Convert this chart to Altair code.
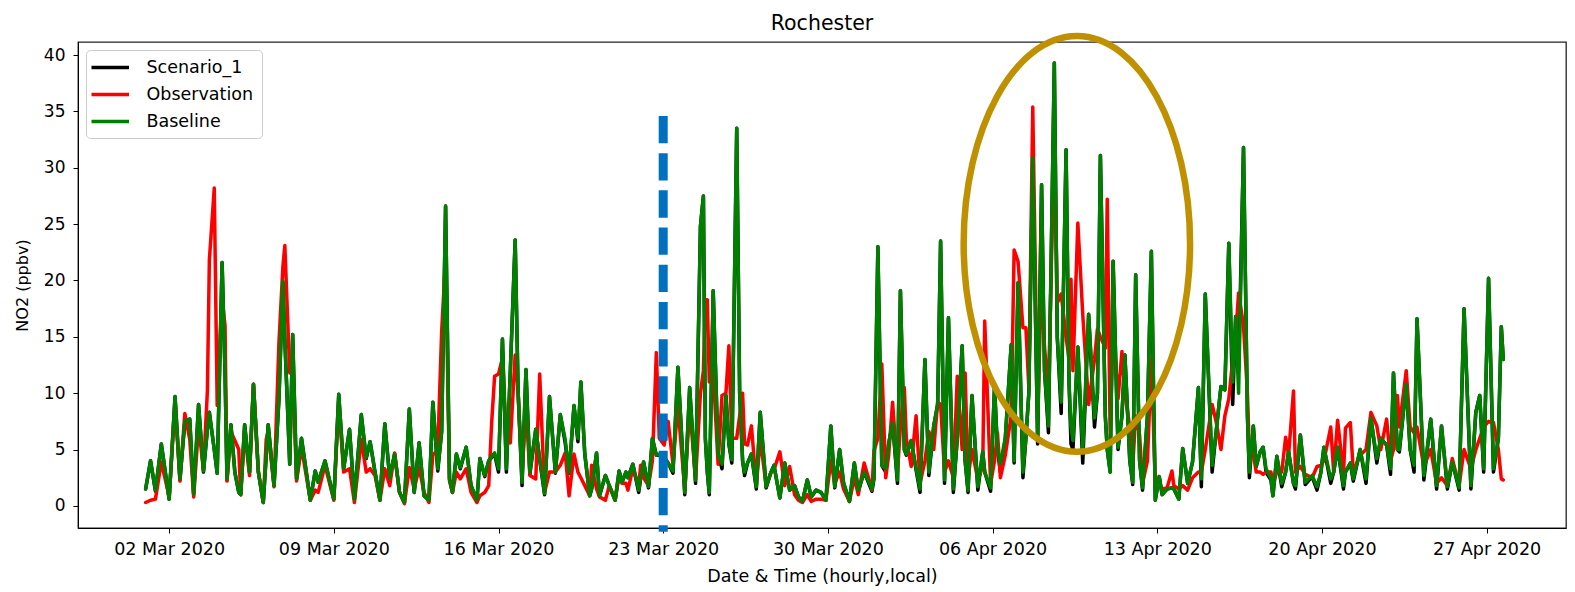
import altair as alt
import pandas as pd

# hours since 2020-03-01 00:00 (local)
hours = [
    0, 5, 10, 16, 24, 30, 35, 40, 45, 49,
    54, 59, 63, 65, 70, 73, 78, 81, 83, 87,
    91, 95, 97, 101, 106, 110, 115, 120, 123, 125,
    131, 136, 140, 142, 147, 150, 154, 159, 168, 173,
    176, 183, 192, 197, 202, 208, 213, 220, 225, 229,
    234, 239, 244, 249, 254, 259, 264, 269, 274, 279,
    284, 289, 293, 298, 302, 306, 310, 313, 317, 321,
    327, 332, 338, 341, 346, 350, 353, 356, 360, 364,
    368, 372, 377, 380, 384, 388, 392, 398, 402, 407,
    412, 418, 423, 428, 432, 437, 441, 444, 448, 453,
    455, 460, 463, 469, 473, 479, 483, 486, 490, 492,
    497, 503, 505, 508, 513, 517, 521, 524, 529, 533,
    538, 543, 550, 555, 561, 566, 569, 571, 573, 575,
    579, 584, 588, 592, 595, 598, 603, 606, 609, 611,
    614, 618, 623, 627, 633, 638, 641, 647, 652, 657,
    662, 666, 670, 675, 679, 684, 689, 694, 699, 703,
    708, 712, 718, 723, 727, 733, 741, 743, 747, 751,
    755, 758, 762, 767, 770, 774, 776, 781, 786, 790,
    795, 799, 804, 808, 811, 815, 819, 824, 828, 833,
    836, 839, 843, 849, 854, 856, 862, 866, 869, 872,
    877, 883, 886, 890, 895, 898, 901, 905, 910, 914,
    917, 921, 927, 930, 934, 939, 942, 944, 946, 951,
    956, 962, 968, 971, 974, 979, 981, 984, 987, 992,
    996, 999, 1004, 1007, 1010, 1014, 1017, 1022, 1026, 1030,
    1034, 1037, 1042, 1047, 1049, 1054, 1058, 1063, 1068, 1074,
    1077, 1081, 1088, 1092, 1097, 1101, 1105, 1109, 1112, 1115,
    1120, 1124, 1126, 1130, 1133, 1137, 1140, 1143, 1148, 1150,
    1154, 1159, 1163, 1166, 1171, 1173, 1178, 1183, 1190, 1195,
    1199, 1202, 1209, 1212, 1216, 1222, 1224, 1229, 1232, 1239,
    1245, 1250, 1256, 1260, 1266, 1270, 1273, 1277, 1279, 1286,
    1290, 1294, 1297, 1304, 1311, 1317, 1322, 1328, 1333, 1340,
    1345, 1352, 1357, 1361, 1365, 1370, 1375, 1380, 1383, 1385,
]

baseline = [
    1.5, 4.0, 1.4, 5.5, 0.6, 9.7, 2.4, 7.5, 7.7, 1.1,
    9.0, 3.1, 6.8, 8.3, 5.0, 2.9, 21.6, 11.8, 2.4, 7.2,
    3.0, 1.2, 1.0, 7.2, 3.0, 10.8, 3.0, 0.3, 4.4, 7.2,
    1.8, 9.5, 19.9, 14.8, 3.7, 15.2, 2.4, 6.0, 0.5, 3.1,
    2.1, 4.0, 0.6, 9.9, 3.3, 6.8, 0.6, 8.1, 4.3, 5.7,
    3.0, 0.5, 7.3, 2.5, 4.6, 1.2, 0.3, 8.6, 1.2, 5.6,
    0.9, 0.5, 9.2, 3.3, 6.6, 26.6, 2.4, 1.2, 4.6, 3.4,
    5.2, 1.8, 0.5, 4.2, 2.7, 4.0, 4.4, 4.7, 3.3, 14.8,
    3.3, 11.9, 23.6, 10.1, 2.1, 12.1, 3.0, 6.8, 4.2, 1.1,
    9.7, 3.0, 8.1, 5.9, 3.0, 8.9, 6.0, 11.0, 4.6, 0.9,
    1.5, 4.7, 0.9, 2.7, 1.8, 0.5, 3.1, 2.1, 3.0, 2.5,
    3.7, 1.4, 2.5, 3.9, 1.7, 6.0, 4.5, 4.6, 4.4, 3.8,
    3.1, 12.3, 1.2, 10.5, 2.3, 24.8, 27.5, 6.0, 3.0, 1.2,
    19.1, 4.6, 3.7, 9.8, 5.5, 4.1, 33.5, 10.0, 4.0, 3.0,
    3.8, 4.6, 1.7, 8.3, 1.7, 3.0, 3.6, 0.7, 3.8, 1.4,
    1.8, 0.8, 0.4, 2.3, 0.8, 1.4, 1.2, 0.5, 7.1, 1.7,
    5.0, 2.1, 0.4, 3.8, 1.4, 3.0, 1.5, 2.5, 23.0, 3.6,
    3.3, 5.5, 7.4, 2.3, 19.1, 5.0, 4.6, 5.8, 3.3, 1.5,
    13.0, 3.0, 7.1, 9.0, 23.5, 2.3, 16.7, 1.5, 6.0, 14.2,
    4.0, 1.4, 9.8, 1.7, 4.8, 3.0, 1.6, 10.6, 5.0, 3.8,
    6.0, 14.3, 4.0, 19.8, 3.0, 6.0, 10.0, 30.9, 5.8, 28.5,
    12.0, 7.1, 39.3, 15.0, 9.2, 31.6, 11.0, 7.0, 5.8, 14.1,
    4.9, 17.0, 7.8, 10.0, 31.1, 8.0, 5.0, 3.0, 21.7, 5.2,
    8.0, 13.4, 4.0, 2.1, 20.5, 4.0, 1.6, 8.0, 22.6, 0.5,
    2.6, 1.0, 1.5, 1.6, 1.5, 0.6, 5.1, 2.0, 3.9, 10.5,
    2.4, 18.8, 3.6, 6.5, 10.6, 10.3, 23.3, 11.0, 16.8, 10.0,
    31.8, 8.0, 3.0, 7.1, 3.6, 4.8, 5.2, 3.3, 2.4, 0.9,
    4.4, 2.0, 3.0, 4.8, 2.0, 1.8, 6.3, 2.1, 2.7, 1.7,
    3.0, 5.2, 2.4, 3.0, 5.2, 1.8, 3.0, 3.8, 2.4, 5.0,
    2.4, 7.8, 4.2, 6.0, 5.4, 3.3, 11.8, 5.0, 5.0, 10.8,
    5.0, 3.6, 16.6, 2.7, 7.7, 1.8, 7.1, 1.7, 3.9, 1.6,
    17.5, 1.8, 8.3, 9.8, 3.3, 20.2, 3.3, 6.0, 15.9, 13.0,
]

observation = [
    0.3, 0.5, 0.6, 3.9, 0.8, 9.2, 2.2, 8.2, 5.9, 0.8,
    7.1, 3.2, 10.2, 21.8, 28.2, 8.9, 18.3, 16.0, 2.2, 6.6,
    5.8, 5.0, 1.0, 6.6, 2.7, 10.8, 3.0, 0.3, 5.9, 6.6,
    1.7, 14.5, 21.2, 23.1, 11.8, 11.8, 2.2, 5.2, 0.5, 1.4,
    1.2, 3.6, 0.5, 9.2, 3.0, 3.3, 0.3, 5.9, 3.0, 3.3,
    2.7, 0.5, 3.3, 1.8, 4.7, 1.2, 0.2, 3.4, 1.5, 3.4,
    1.2, 0.3, 4.5, 5.0, 15.5, 22.0, 2.2, 1.2, 3.0, 2.4,
    3.3, 1.2, 0.3, 0.9, 1.2, 1.8, 7.4, 11.5, 11.7, 13.1,
    6.2, 5.6, 13.4, 10.1, 2.7, 8.9, 2.7, 2.4, 11.7, 1.2,
    3.0, 3.0, 3.6, 4.7, 0.9, 4.6, 3.0, 2.5, 1.8, 0.9,
    3.6, 1.5, 0.8, 0.5, 1.8, 0.5, 2.7, 2.0, 2.0, 1.4,
    3.3, 1.8, 3.6, 2.5, 1.8, 4.0, 13.6, 6.0, 5.4, 7.5,
    3.7, 8.9, 1.4, 8.9, 2.3, 10.0, 12.0, 18.3, 18.3, 11.0,
    12.0, 3.7, 9.8, 10.0, 14.2, 6.0, 6.0, 8.0, 10.0, 5.5,
    5.4, 7.1, 1.8, 6.0, 1.8, 3.0, 3.2, 4.8, 1.8, 3.5,
    1.0, 0.5, 0.3, 1.0, 0.4, 0.6, 0.6, 0.5, 4.0, 2.0,
    3.0, 1.5, 0.4, 2.5, 1.0, 3.8, 1.4, 4.9, 6.0, 12.6,
    2.5, 4.5, 9.2, 3.0, 7.0, 10.5, 6.0, 3.5, 8.0, 2.0,
    4.0, 6.6, 5.0, 9.2, 9.0, 3.0, 4.0, 2.5, 11.5, 5.0,
    11.8, 2.5, 5.0, 2.3, 3.5, 16.4, 2.0, 4.0, 6.5, 2.5,
    4.5, 8.0, 22.7, 21.7, 15.8, 15.8, 10.5, 35.4, 8.0, 20.0,
    14.1, 10.0, 32.8, 18.0, 18.8, 15.0, 13.0, 20.1, 12.0, 25.1,
    17.0, 9.0, 13.0, 15.7, 15.0, 14.0, 27.2, 6.0, 16.0, 9.5,
    13.7, 10.0, 7.0, 3.5, 8.0, 6.3, 2.0, 4.0, 13.0, 2.0,
    2.0, 1.5, 1.6, 3.1, 1.8, 1.5, 1.8, 1.4, 2.5, 3.0,
    3.0, 5.0, 9.0, 7.5, 5.0, 8.0, 9.5, 13.0, 15.0, 18.9,
    16.0, 10.0, 4.6, 4.6, 3.0, 3.0, 2.8, 3.0, 3.0, 2.0,
    3.0, 3.0, 6.1, 4.5, 10.2, 3.0, 3.5, 2.8, 2.5, 3.5,
    3.6, 4.0, 7.0, 3.0, 7.6, 2.8, 6.9, 7.4, 3.0, 4.5,
    5.0, 8.3, 7.1, 5.0, 7.7, 4.0, 5.0, 9.8, 7.0, 12.0,
    7.0, 6.5, 7.0, 3.5, 5.0, 2.0, 2.5, 1.8, 4.2, 1.8,
    5.0, 3.3, 5.0, 6.0, 7.0, 7.5, 7.4, 5.0, 2.4, 2.3,
]

scenario_1 = [
    1.5, 4.0, 1.3, 5.5, 0.6, 9.7, 2.3, 7.5, 7.7, 1.0,
    9.0, 3.0, 6.8, 8.3, 5.0, 2.9, 21.6, 11.8, 2.3, 7.2,
    3.0, 1.2, 1.0, 7.2, 3.0, 10.8, 3.0, 0.3, 4.4, 7.2,
    1.8, 9.5, 19.9, 14.8, 3.7, 15.2, 2.4, 6.0, 0.5, 3.1,
    2.1, 4.0, 0.6, 9.9, 3.3, 6.8, 0.6, 8.1, 4.2, 5.7,
    3.0, 0.5, 7.3, 2.5, 4.6, 1.2, 0.3, 8.6, 1.2, 5.6,
    0.9, 0.5, 9.2, 3.1, 6.6, 26.6, 2.4, 1.2, 4.6, 3.3,
    5.2, 1.8, 0.5, 4.2, 2.6, 4.0, 4.3, 4.6, 3.0, 14.8,
    3.0, 11.9, 23.6, 10.1, 1.8, 12.1, 2.8, 6.8, 4.1, 1.0,
    9.7, 2.9, 8.1, 5.6, 2.9, 8.9, 5.7, 11.0, 4.6, 0.9,
    1.5, 4.7, 0.9, 2.7, 1.8, 0.5, 3.1, 2.1, 3.0, 2.5,
    3.7, 1.2, 2.4, 3.9, 1.6, 6.0, 4.5, 4.5, 4.3, 3.8,
    2.9, 12.3, 1.0, 10.5, 2.0, 24.8, 27.5, 6.0, 3.0, 1.0,
    19.1, 4.6, 3.3, 9.8, 5.5, 3.8, 33.5, 10.0, 4.0, 2.7,
    3.8, 4.6, 1.5, 8.3, 1.6, 3.0, 3.6, 0.7, 3.8, 1.4,
    1.8, 0.8, 0.4, 2.3, 0.8, 1.4, 1.2, 0.5, 7.1, 1.6,
    5.0, 2.0, 0.4, 3.8, 1.3, 3.0, 1.3, 2.4, 23.0, 3.6,
    3.0, 5.5, 7.4, 2.0, 19.1, 5.0, 4.5, 5.8, 3.2, 1.2,
    13.0, 2.7, 7.1, 9.0, 23.5, 2.0, 16.7, 1.2, 6.0, 14.2,
    4.0, 1.2, 9.8, 1.4, 4.8, 3.0, 1.3, 10.6, 5.0, 3.0,
    6.0, 14.3, 3.8, 19.8, 2.5, 6.0, 10.0, 30.9, 5.5, 28.5,
    12.0, 6.5, 39.3, 15.0, 8.2, 31.6, 11.0, 5.5, 5.0, 14.1,
    3.8, 17.0, 7.0, 10.0, 31.1, 8.0, 5.0, 3.0, 21.7, 5.0,
    8.0, 13.4, 4.0, 1.9, 20.5, 4.0, 1.4, 8.0, 22.6, 0.5,
    2.6, 1.0, 1.5, 1.6, 1.5, 0.6, 5.1, 2.0, 3.9, 10.5,
    1.7, 18.8, 3.0, 6.5, 10.6, 10.3, 23.3, 9.0, 16.8, 12.0,
    31.8, 8.0, 2.5, 7.1, 3.5, 4.8, 5.2, 3.0, 2.3, 0.9,
    4.4, 1.7, 3.0, 4.8, 2.0, 1.5, 6.3, 1.9, 2.6, 1.4,
    3.0, 5.2, 2.0, 3.0, 5.2, 1.5, 3.0, 3.8, 2.2, 5.0,
    2.0, 7.8, 3.8, 6.0, 5.4, 2.8, 11.8, 5.0, 4.8, 10.8,
    5.0, 3.0, 16.6, 2.3, 7.7, 1.5, 7.1, 1.5, 3.9, 1.4,
    17.5, 1.5, 8.3, 9.8, 3.0, 20.2, 3.0, 6.0, 15.9, 13.0,
]

series_names = ["Scenario_1", "Observation", "Baseline"]
series_colors = ["#000000", "#ff0000", "#008000"]

# x tick dates (month, day) in 2020
x_ticks = [("mar", 2), ("mar", 9), ("mar", 16), ("mar", 23), ("mar", 30),
           ("apr", 6), ("apr", 13), ("apr", 20), ("apr", 27)]
y_ticks = [0, 5, 10, 15, 20, 25, 30, 35, 40]

# annotations: vertical dashed marker and highlight ellipse
marker_time = ["2020-03-23 00:00:00"]
marker_top = [34.6]
marker_bottom = [-2.3]
ellipse_time = ["2020-04-09 14:00:00"]
ellipse_value = [23.25]

assert len(hours) == len(baseline) == len(observation) == len(scenario_1)

start = pd.Timestamp("2020-03-01 00:00:00")
times = [start + pd.Timedelta(hours=h) for h in hours]
frames = []
for name, vals in zip(series_names, [scenario_1, observation, baseline]):
    frames.append(pd.DataFrame({"time": times, "value": vals, "series": name}))
df = pd.concat(frames, ignore_index=True)

marker_df = pd.DataFrame({"time": pd.to_datetime(marker_time), "top": marker_top, "bottom": marker_bottom})
ellipse_df = pd.DataFrame({"time": pd.to_datetime(ellipse_time), "value": ellipse_value})

FONT = "DejaVu Sans"

x_scale = alt.Scale(domain=[alt.DateTime(year=2020, month="feb", date=27, hours=3),
                            alt.DateTime(year=2020, month="apr", date=30, hours=9)])
y_scale = alt.Scale(domain=[-1.96, 41.16], nice=False, zero=False)

x_axis = alt.Axis(
    values=[alt.DateTime(year=2020, month=m, date=d) for m, d in x_ticks],
    format="%d %b %Y", title="Date & Time (hourly,local)",
    labelFontSize=17.5, titleFontSize=17.5, labelFont=FONT, titleFont=FONT,
    tickSize=5, labelPadding=7, titlePadding=10, grid=False,
    labelOverlap=False, labelFlush=False,
    domainColor="black", tickColor="black", labelColor="black", titleColor="black",
    titleFontWeight="normal",
)
y_axis = alt.Axis(
    values=y_ticks, title="NO2 (ppbv)",
    labelFontSize=17, titleFontSize=16, labelFont=FONT, titleFont=FONT,
    tickSize=5, labelPadding=8, titlePadding=13, grid=False,
    domainColor="black", tickColor="black", labelColor="black", titleColor="black",
    titleFontWeight="normal",
)

X = alt.X("time:T", scale=x_scale, axis=x_axis, title="Date & Time (hourly,local)")
Y = alt.Y("value:Q", scale=y_scale, axis=y_axis, title="NO2 (ppbv)")

legend = alt.Legend(
    title=None, orient="top-left", offset=8,
    symbolType="M -1.6 0 H 3.4", symbolSize=225, symbolStrokeWidth=3.5,
    labelFontSize=17.5, labelFont=FONT, labelColor="black", labelOffset=33.5,
    padding=8, rowPadding=9, fillColor="white", strokeColor="#cccccc",
    cornerRadius=4, symbolOpacity=1,
)
color = alt.Color("series:N", scale=alt.Scale(domain=series_names, range=series_colors),
                  legend=legend, sort=series_names)


def series_line(name):
    return (
        alt.Chart(df)
        .transform_filter(alt.datum.series == name)
        .mark_line(strokeWidth=3.5, strokeJoin="round", strokeCap="round")
        .encode(x=X, y=Y, color=color)
    )


lines = [series_line(n) for n in series_names]

rule = (
    alt.Chart(marker_df)
    .mark_rule(color="#0070C0", strokeWidth=9, strokeDash=[27.3, 9.9], strokeCap="butt")
    .encode(x=alt.X("time:T", scale=x_scale, axis=x_axis, title="Date & Time (hourly,local)"),
            y=alt.Y("top:Q", scale=y_scale, axis=y_axis, title="NO2 (ppbv)"),
            y2="bottom:Q")
)

ELLIPSE_PATH = "M 0 -1 A 0.5448 1 0 1 1 0 1 A 0.5448 1 0 1 1 0 -1 Z"
ellipse = (
    alt.Chart(ellipse_df)
    .mark_point(shape=ELLIPSE_PATH, size=172700, filled=False, stroke="#BF9000",
                strokeWidth=6.5, opacity=1)
    .encode(x=X, y=Y)
)

chart = (
    alt.layer(*lines, rule, ellipse)
    .properties(
        width=1488, height=486,
        title=alt.Title("Rochester", fontSize=20.5, font=FONT, fontWeight="normal",
                        color="black", offset=10, anchor="middle", dy=21),
        autosize=alt.AutoSizeParams(type="none"),
        padding={"left": 78, "top": 42, "right": 9, "bottom": 64},
        background="white",
    )
    .configure_view(stroke="#222222", strokeWidth=1.3)
)

chart.save("out.html", embed_options={"renderer": "svg", "actions": False})
